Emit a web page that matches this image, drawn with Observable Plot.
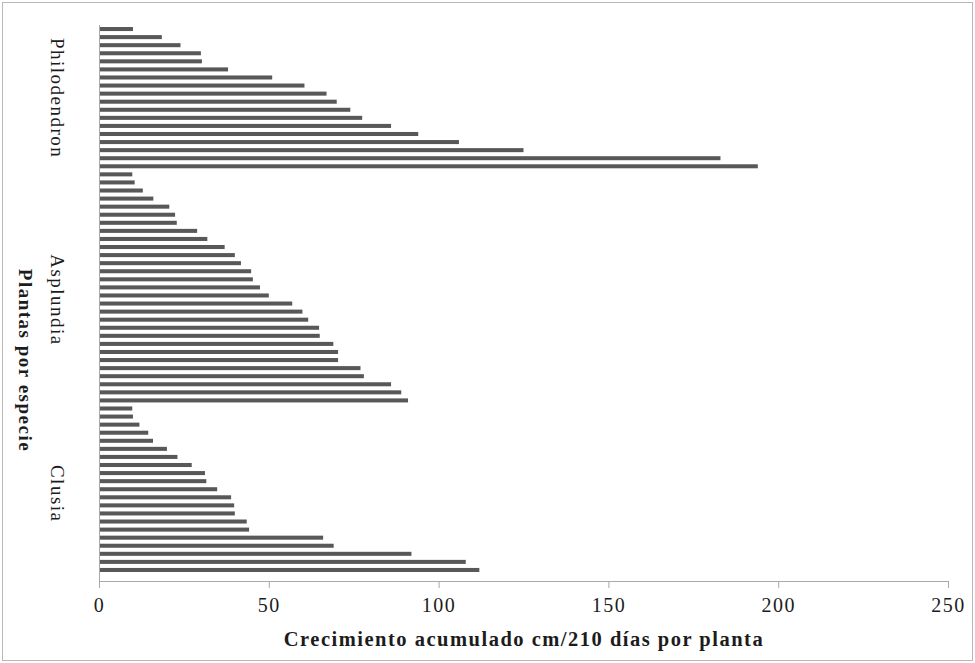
<!DOCTYPE html>
<html>
<head>
<meta charset="utf-8">
<script src="https://cdn.jsdelivr.net/npm/d3@7"></script>
<script src="https://cdn.jsdelivr.net/npm/@observablehq/plot@0.6"></script>
<style>
  html, body { margin: 0; padding: 0; background: #fff; }
  #chart svg { display: block; outline: 1px solid #b8b8b8; outline-offset: -3px; }
  #chart svg text { letter-spacing: 1.5px; }
</style>
</head>
<body>
<div id="chart"></div>
<script>
// Species groups, top to bottom
const species = ["Philodendron", "Asplundia", "Clusia"];

// Bar values read top to bottom within each group (cm / 210 days per plant)
const philodendron = [10, 18.5, 24, 30, 30.3, 38, 51, 60.5, 67, 70, 74, 77.5, 86, 94, 106, 125, 183, 194];
const asplundia = [9.8, 10.5, 12.9, 16, 20.7, 22.4, 22.9, 28.9, 31.9, 37, 40, 41.8, 44.8, 45.3, 47.4, 50,
                   56.9, 59.9, 61.6, 64.8, 65, 69, 70.4, 70.4, 77, 78, 86, 89, 91];
const clusia = [9.8, 10, 11.9, 14.5, 15.9, 20, 23.1, 27.3, 31.2, 31.6, 34.8, 38.9, 39.8, 40, 43.5, 44.2,
                66, 69.1, 92, 108, 112];

const xTicks = [0, 50, 100, 150, 200, 250];
const xTitle = "Crecimiento acumulado cm/210 días por planta";
const yTitle = "Plantas por especie";

// bar in each group where the species label sits
const labelAnchors = ["Philodendron-9", "Asplundia-16", "Clusia-11"];

const series = [philodendron, asplundia, clusia];
const rows = [];
species.forEach((sp, k) => {
  series[k].forEach((v, i) => rows.push({species: sp, id: `${sp}-${i + 1}`, value: v}));
});
const ids = rows.map(d => d.id);
const labels = species.map((sp, k) => ({name: sp, anchor: labelAnchors[k]}));

const axisColor = "#a9a9a9";
const textColor = "#1c1c1c";

const chart = Plot.plot({
  width: 975,
  height: 663,
  marginTop: 25,
  marginBottom: 82,
  marginLeft: 99,
  marginRight: 27,
  style: {fontFamily: "'Liberation Serif', 'Times New Roman', serif", fontSize: "20px", color: textColor, background: "#fff"},
  x: {domain: [0, 250], ticks: xTicks},
  y: {domain: ids, paddingInner: 0.5, paddingOuter: 0.25, insetBottom: 7, round: false, axis: null},
  marks: [
    Plot.barX(rows, {y: "id", x: "value", fill: "#585858"}),
    Plot.ruleX([0], {stroke: axisColor, insetBottom: -7}),
    Plot.frame({anchor: "bottom", stroke: axisColor}),
    Plot.axisX({ticks: xTicks, tickSize: 7, tickPadding: 9, stroke: axisColor, fill: textColor, fontSize: 20, label: null}),
    Plot.text(labels, {y: "anchor", text: "name", rotate: 90, frameAnchor: "left", textAnchor: "middle", lineAnchor: "middle", dx: -42, dy: 4, fontSize: 19, fill: textColor}),
    Plot.text([yTitle], {text: d => d, rotate: 90, frameAnchor: "left", textAnchor: "middle", lineAnchor: "middle", dx: -74, dy: 57, fontSize: 19, fontWeight: "bold", fill: textColor}),
    Plot.text([xTitle], {text: d => d, frameAnchor: "bottom", lineAnchor: "middle", dy: 58, fontSize: 20.5, fontWeight: "bold", fill: textColor})
  ]
});
document.getElementById("chart").appendChild(chart);
</script>
</body>
</html>
